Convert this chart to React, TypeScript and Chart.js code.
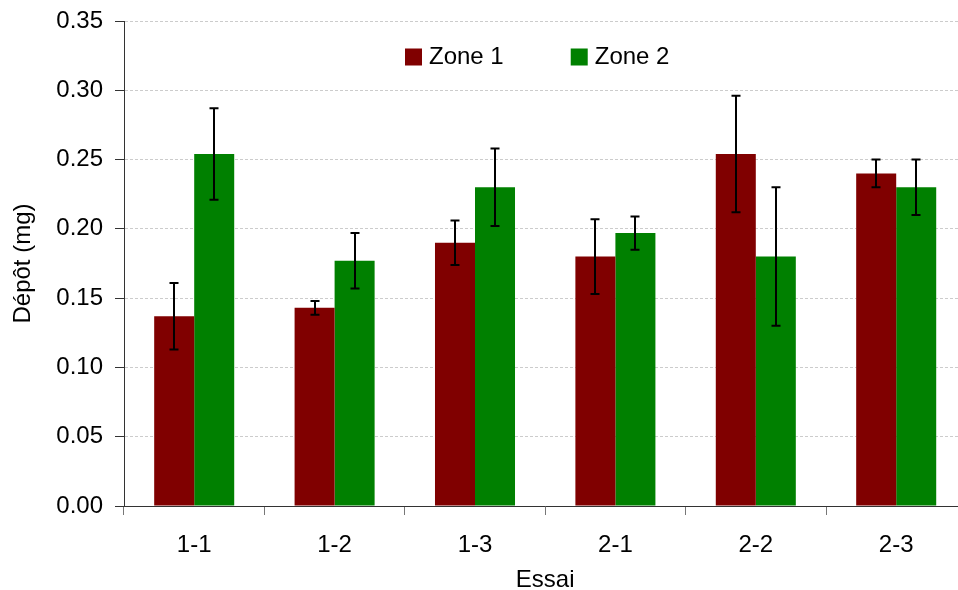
import React, { useEffect, useRef } from "react";
import { Chart, registerables } from "chart.js";

Chart.register(...registerables);

const categories = ["1-1", "1-2", "1-3", "2-1", "2-2", "2-3"];
const zone1Values = [0.137, 0.143, 0.19, 0.18, 0.254, 0.24];
const zone1Errors = [0.024, 0.005, 0.016, 0.027, 0.042, 0.01];
const zone2Values = [0.254, 0.177, 0.23, 0.197, 0.18, 0.23];
const zone2Errors = [0.033, 0.02, 0.028, 0.012, 0.05, 0.02];
const yTickLabels = ["0.00", "0.05", "0.10", "0.15", "0.20", "0.25", "0.30", "0.35"];
const seriesNames = ["Zone 1", "Zone 2"];
const seriesColors = ["#800000", "#008000"];

const FONT = "'Liberation Sans', Arial, sans-serif";

const errorBarPlugin = {
  id: "errorBars",
  afterDatasetsDraw(chart: any) {
    const ctx = chart.ctx;
    const yScale = chart.scales.y;
    ctx.save();
    ctx.strokeStyle = "#000";
    ctx.lineWidth = 2;
    chart.data.datasets.forEach((ds: any, i: number) => {
      const meta = chart.getDatasetMeta(i);
      const errs = ds.errors as number[];
      meta.data.forEach((el: any, j: number) => {
        const v = ds.data[j];
        const e = errs[j];
        const x = Math.round(el.x);
        const yt = yScale.getPixelForValue(v + e);
        const yb = yScale.getPixelForValue(v - e);
        const cw = 4.5;
        ctx.beginPath();
        ctx.moveTo(x, yt);
        ctx.lineTo(x, yb);
        ctx.moveTo(x - cw, yt);
        ctx.lineTo(x + cw, yt);
        ctx.moveTo(x - cw, yb);
        ctx.lineTo(x + cw, yb);
        ctx.stroke();
      });
    });
    ctx.restore();
  },
};

const legendPlugin = {
  id: "innerLegend",
  afterDraw(chart: any) {
    const ctx = chart.ctx;
    const area = chart.chartArea;
    ctx.save();
    ctx.font = `24px ${FONT}`;
    ctx.textBaseline = "middle";
    ctx.textAlign = "left";
    let x = area.left + 281;
    const cy = area.top + 36;
    chart.data.datasets.forEach((ds: any) => {
      ctx.fillStyle = ds.backgroundColor;
      ctx.fillRect(x, cy - 8.5, 17, 17);
      ctx.fillStyle = "#000";
      ctx.fillText(ds.label, x + 24, cy);
      const w = ctx.measureText(ds.label).width;
      x += 24 + w + 67;
    });
    ctx.restore();
  },
};

export default function App() {
  const canvasRef = useRef<HTMLCanvasElement>(null);

  useEffect(() => {
    if (!canvasRef.current) return;
    Chart.defaults.font.family = FONT;
    const chart = new Chart(canvasRef.current, {
      type: "bar",
      data: {
        labels: categories,
        datasets: [
          {
            label: seriesNames[0],
            data: zone1Values,
            errors: zone1Errors,
            backgroundColor: seriesColors[0],
            borderWidth: 0,
            categoryPercentage: 0.57,
            barPercentage: 1,
          } as any,
          {
            label: seriesNames[1],
            data: zone2Values,
            errors: zone2Errors,
            backgroundColor: seriesColors[1],
            borderWidth: 0,
            categoryPercentage: 0.57,
            barPercentage: 1,
          } as any,
        ],
      },
      options: {
        animation: false,
        responsive: false,
        devicePixelRatio: 1,
        layout: { padding: { left: 0, top: 21, right: 13.6, bottom: 0 } },
        plugins: {
          legend: { display: false },
          tooltip: { enabled: false },
        },
        scales: {
          x: {
            afterFit: (s: any) => {
              s.height = 84;
            },
            grid: {
              drawOnChartArea: false,
              drawTicks: true,
              tickLength: 9,
              tickColor: "#777",
              offset: true,
            },
            border: { color: "#333", width: 1 },
            ticks: {
              color: "#000",
              font: { size: 24 },
              padding: 16,
            },
            title: {
              display: true,
              text: "Essai",
              color: "#000",
              font: { size: 24, lineHeight: 0.84 },
              padding: { top: 0, bottom: 0 },
            },
          },
          y: {
            min: 0,
            max: 0.35,
            afterFit: (s: any) => {
              s.width = 124;
            },
            grid: {
              color: "#cccccc",
              tickLength: 9,
              tickColor: "#333",
              tickBorderDash: [],
              drawTicks: true,
            } as any,
            border: { color: "#333", width: 1, dash: [3, 2] },
            ticks: {
              stepSize: 0.05,
              color: "#000",
              font: { size: 24, lineHeight: 0.5 },
              padding: 12,
              callback: (_v: any, i: number) => yTickLabels[i],
            },
            title: {
              display: true,
              text: "Dépôt (mg)",
              color: "#000",
              font: { size: 24, lineHeight: 1.2 },
              padding: { top: 9, bottom: 0 },
            },
          },
        },
      },
      plugins: [errorBarPlugin, legendPlugin],
    });
    return () => chart.destroy();
  }, []);

  return (
    <div
      style={{
        position: "fixed",
        left: 0,
        top: 0,
        width: 958,
        height: 590,
        overflow: "hidden",
        background: "#fff",
      }}
    >
      <canvas
        ref={canvasRef}
        width={980}
        height={590}
        style={{ display: "block", width: 980, height: 590 }}
      />
    </div>
  );
}
